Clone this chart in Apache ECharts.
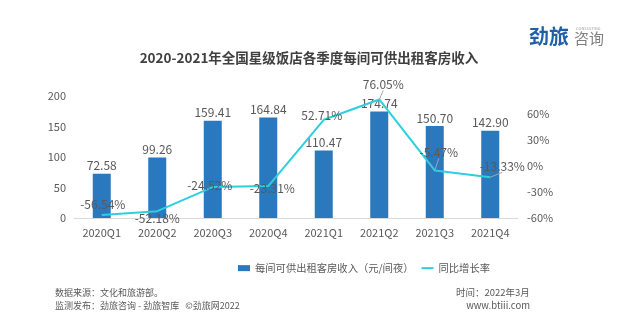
<!DOCTYPE html>
<html>
<head>
<meta charset="utf-8">
<script src="https://cdn.jsdelivr.net/npm/echarts@6/dist/echarts.min.js"></script>
<style>
html,body{margin:0;padding:0;background:#fff;}
#c{width:630px;height:327px;}
</style>
</head>
<body>
<div id="c"></div>
<script>
const categories = ['2020Q1','2020Q2','2020Q3','2020Q4','2021Q1','2021Q2','2021Q3','2021Q4'];
const revpar = [72.58, 99.26, 159.41, 164.84, 110.47, 174.74, 150.70, 142.90];
const yoy = [-56.54, -52.18, -24.52, -23.31, 52.71, 76.05, -5.47, -13.33];
const barName = '每间可供出租客房收入（元/间夜）';
const lineName = '同比增长率';
const titleText = '2020-2021年全国星级饭店各季度每间可供出租客房收入';

const FONT = '"Noto Sans CJK SC", "Noto Sans", sans-serif';
const GRAY = '#595959';
// label nudges for the line labels (layout only)
const lineLabelShift = [[1,1],[0,18],[-3,9],[4,13],[-2,7],[4,-4],[4,-7],[12,0]];
const leader = [false,false,false,false,false,true,true,true];

const chart = echarts.init(document.getElementById('c'), null, {renderer:'canvas'});
chart.setOption({
  animation:false,
  backgroundColor:'#fff',
  textStyle:{fontFamily:FONT},
  grid:{left:74, right:112, top:96, bottom:109, containLabel:false},
  legend:{
    left:233, top:258, itemWidth:12, itemHeight:6, itemGap:8,
    textStyle:{color:GRAY, fontSize:10.3, fontFamily:FONT},
    data:[{name:barName, icon:'rect'}, {name:lineName, icon:'path://M0,0 L12,0 L12,2 L0,2 Z'}]
  },
  xAxis:{
    type:'category', data:categories,
    axisLine:{lineStyle:{color:'#d9d9d9'}},
    axisTick:{show:false},
    axisLabel:{color:GRAY, fontSize:11, margin:9, fontFamily:FONT}
  },
  yAxis:[
    {type:'value', min:0, max:200, interval:50,
     axisLine:{show:false}, axisTick:{show:false}, splitLine:{show:false},
     axisLabel:{color:GRAY, fontSize:11, margin:8, fontFamily:FONT}},
    {type:'value', min:-60, max:80, interval:30,
     axisLine:{show:false}, axisTick:{show:false}, splitLine:{show:false},
     axisLabel:{color:GRAY, fontSize:11, margin:9, fontFamily:FONT, showMaxLabel:false,
       formatter:function(v){return v % 30 === 0 ? v + '%' : '';}}}
  ],
  series:[
    {name:barName, type:'bar', data:revpar, barWidth:18,
     itemStyle:{color:'#2a78be'},
     label:{show:true, position:'top', distance:2, color:GRAY, fontSize:12, fontFamily:FONT,
       formatter:function(p){return p.value.toFixed(2);}}},
    {name:lineName, type:'line', yAxisIndex:1, symbol:'circle', symbolSize:0.1, showSymbol:true,
     data:yoy.map(function(v,i){return {value:v, labelLine:{show:leader[i]}};}),
     lineStyle:{color:'#2dcfdf', width:2}, itemStyle:{color:'#2dcfdf'},
     label:{show:true, position:'top', color:GRAY, fontSize:12, fontFamily:FONT,
       formatter:function(p){return p.value.toFixed(2) + '%';}},
     labelLine:{show:true, lineStyle:{color:'#a6a6a6', width:1}},
     labelLayout:function(p){var s=lineLabelShift[p.dataIndex];return {dx:s[0], dy:s[1]};}
    }
  ],
  graphic:[
    {type:'text', style:{text:titleText, x:309, y:58, textAlign:'center', textVerticalAlign:'middle',
      font:'bold 13.5px '+FONT, fill:'#404040'}},
    {type:'text', style:{text:'劲旅', x:529, y:36, textVerticalAlign:'middle', font:'bold 20px '+FONT, fill:'#1e5fa8'}},
    {type:'text', style:{text:'咨询', x:574, y:38, textVerticalAlign:'middle', font:'15px '+FONT, fill:'#7f7f7f'}},
    {type:'text', style:{text:'CONSULTING', x:576, y:28, textVerticalAlign:'middle', font:'4px '+FONT, fill:'#a0a0a0'}},
    {type:'text', style:{text:'数据来源：文化和旅游部。', x:55, y:293, textVerticalAlign:'middle', font:'9px '+FONT, fill:GRAY}},
    {type:'text', style:{text:'监测发布：劲旅咨询 - 劲旅智库   ©劲旅网2022', x:55, y:306, textVerticalAlign:'middle', font:'9px '+FONT, fill:GRAY}},
    {type:'text', style:{text:'时间：2022年3月', x:456, y:292, textVerticalAlign:'middle', font:'9.5px '+FONT, fill:GRAY}},
    {type:'text', style:{text:'www.btiii.com', x:530, y:305, textAlign:'right', textVerticalAlign:'middle', font:'9.5px '+FONT, fill:GRAY}}
  ]
});
</script>
</body>
</html>
